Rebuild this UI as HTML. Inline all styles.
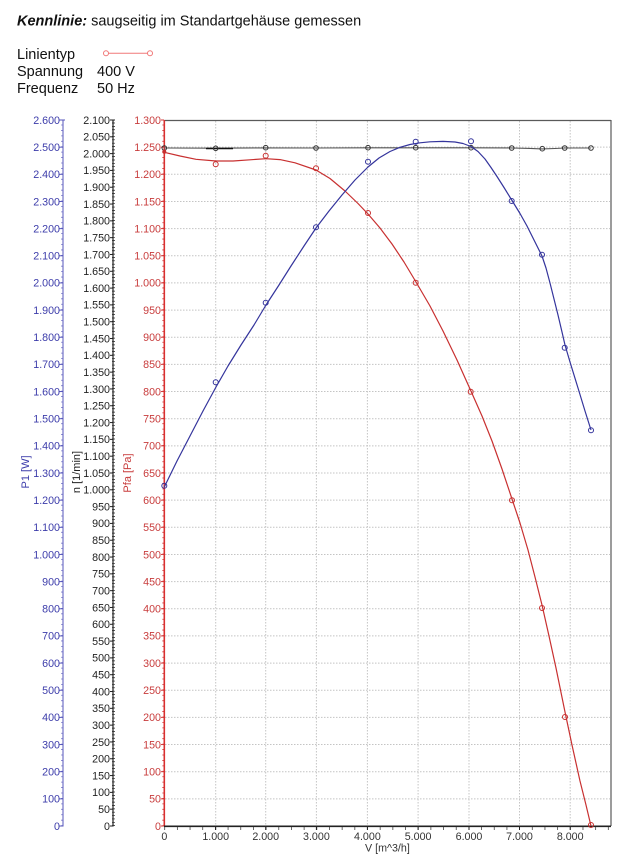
<!DOCTYPE html>
<html><head><meta charset="utf-8"><style>
html,body{margin:0;padding:0;background:#fff;}
svg{display:block;font-family:"Liberation Sans",Arial,sans-serif;}
</style></head><body>
<svg width="631" height="859" viewBox="0 0 631 859" xmlns="http://www.w3.org/2000/svg">
<rect width="631" height="859" fill="#fff"/>
<!-- header -->
<text x="17" y="25.5" font-size="14.5" fill="#111"><tspan font-weight="bold" font-style="italic">Kennlinie:</tspan> saugseitig im Standartgehäuse gemessen</text>
<text x="17" y="59" font-size="14.5" fill="#111">Linientyp</text>
<text x="17" y="76" font-size="14.5" fill="#111">Spannung</text>
<text x="97" y="76" font-size="14.5" fill="#111">400 V</text>
<text x="17" y="93" font-size="14.5" fill="#111">Frequenz</text>
<text x="97" y="93" font-size="14.5" fill="#111">50 Hz</text>
<line x1="108.5" y1="53.3" x2="147.5" y2="53.3" stroke="#f07878" stroke-width="1"/>
<circle cx="106" cy="53.3" r="2.5" fill="#fff" stroke="#f07878" stroke-width="1"/>
<circle cx="150" cy="53.3" r="2.5" fill="#fff" stroke="#f07878" stroke-width="1"/>

<!-- grid -->
<g stroke="#c4c4c4" stroke-width="1" stroke-dasharray="1.5 1.5">
<line x1="215.7" y1="121" x2="215.7" y2="825"/>
<line x1="265.7" y1="121" x2="265.7" y2="825"/>
<line x1="316.4" y1="121" x2="316.4" y2="825"/>
<line x1="367.4" y1="121" x2="367.4" y2="825"/>
<line x1="418.1" y1="121" x2="418.1" y2="825"/>
<line x1="469" y1="121" x2="469" y2="825"/>
<line x1="519.5" y1="121" x2="519.5" y2="825"/>
<line x1="570.2" y1="121" x2="570.2" y2="825"/>
<line x1="165" y1="798.85" x2="610" y2="798.85"/>
<line x1="165" y1="771.69" x2="610" y2="771.69"/>
<line x1="165" y1="744.54" x2="610" y2="744.54"/>
<line x1="165" y1="717.38" x2="610" y2="717.38"/>
<line x1="165" y1="690.23" x2="610" y2="690.23"/>
<line x1="165" y1="663.08" x2="610" y2="663.08"/>
<line x1="165" y1="635.92" x2="610" y2="635.92"/>
<line x1="165" y1="608.77" x2="610" y2="608.77"/>
<line x1="165" y1="581.61" x2="610" y2="581.61"/>
<line x1="165" y1="554.46" x2="610" y2="554.46"/>
<line x1="165" y1="527.31" x2="610" y2="527.31"/>
<line x1="165" y1="500.15" x2="610" y2="500.15"/>
<line x1="165" y1="473" x2="610" y2="473"/>
<line x1="165" y1="445.85" x2="610" y2="445.85"/>
<line x1="165" y1="418.69" x2="610" y2="418.69"/>
<line x1="165" y1="391.54" x2="610" y2="391.54"/>
<line x1="165" y1="364.38" x2="610" y2="364.38"/>
<line x1="165" y1="337.23" x2="610" y2="337.23"/>
<line x1="165" y1="310.08" x2="610" y2="310.08"/>
<line x1="165" y1="282.92" x2="610" y2="282.92"/>
<line x1="165" y1="255.77" x2="610" y2="255.77"/>
<line x1="165" y1="228.62" x2="610" y2="228.62"/>
<line x1="165" y1="201.46" x2="610" y2="201.46"/>
<line x1="165" y1="174.31" x2="610" y2="174.31"/>
<line x1="165" y1="147.15" x2="610" y2="147.15"/>
</g>
<!-- plot border -->
<line x1="164.3" y1="120.5" x2="611" y2="120.5" stroke="#5a5a5a" stroke-width="1.2"/>
<line x1="611" y1="120" x2="611" y2="826" stroke="#5a5a5a" stroke-width="1.2"/>

<!-- blue axis -->
<line x1="63" y1="120" x2="63" y2="826.5" stroke="#5555bb" stroke-width="1"/>
<line x1="61.8" y1="826" x2="61.8" y2="120" stroke="#8080cc" stroke-width="1.6" stroke-dasharray="0.8 4.631"/>
<g stroke="#5555bb" stroke-width="1">
<line x1="59.5" y1="826" x2="63" y2="826"/><line x1="59.5" y1="798.85" x2="63" y2="798.85"/><line x1="59.5" y1="771.69" x2="63" y2="771.69"/><line x1="59.5" y1="744.54" x2="63" y2="744.54"/><line x1="59.5" y1="717.38" x2="63" y2="717.38"/><line x1="59.5" y1="690.23" x2="63" y2="690.23"/><line x1="59.5" y1="663.08" x2="63" y2="663.08"/><line x1="59.5" y1="635.92" x2="63" y2="635.92"/><line x1="59.5" y1="608.77" x2="63" y2="608.77"/><line x1="59.5" y1="581.61" x2="63" y2="581.61"/><line x1="59.5" y1="554.46" x2="63" y2="554.46"/><line x1="59.5" y1="527.31" x2="63" y2="527.31"/><line x1="59.5" y1="500.15" x2="63" y2="500.15"/><line x1="59.5" y1="473" x2="63" y2="473"/><line x1="59.5" y1="445.85" x2="63" y2="445.85"/><line x1="59.5" y1="418.69" x2="63" y2="418.69"/><line x1="59.5" y1="391.54" x2="63" y2="391.54"/><line x1="59.5" y1="364.38" x2="63" y2="364.38"/><line x1="59.5" y1="337.23" x2="63" y2="337.23"/><line x1="59.5" y1="310.08" x2="63" y2="310.08"/><line x1="59.5" y1="282.92" x2="63" y2="282.92"/><line x1="59.5" y1="255.77" x2="63" y2="255.77"/><line x1="59.5" y1="228.62" x2="63" y2="228.62"/><line x1="59.5" y1="201.46" x2="63" y2="201.46"/><line x1="59.5" y1="174.31" x2="63" y2="174.31"/><line x1="59.5" y1="147.15" x2="63" y2="147.15"/><line x1="59.5" y1="120" x2="65" y2="120"/>
</g>
<g font-size="10.7" fill="#3c3caa" text-anchor="end">
<text x="60" y="829.8">0</text><text x="60" y="802.6">100</text><text x="60" y="775.5">200</text><text x="60" y="748.3">300</text><text x="60" y="721.2">400</text><text x="60" y="694">500</text><text x="60" y="666.9">600</text><text x="60" y="639.7">700</text><text x="60" y="612.6">800</text><text x="60" y="585.4">900</text><text x="60" y="558.3">1.000</text><text x="60" y="531.1">1.100</text><text x="60" y="504">1.200</text><text x="60" y="476.8">1.300</text><text x="60" y="449.6">1.400</text><text x="60" y="422.5">1.500</text><text x="60" y="395.3">1.600</text><text x="60" y="368.2">1.700</text><text x="60" y="341">1.800</text><text x="60" y="313.9">1.900</text><text x="60" y="286.7">2.000</text><text x="60" y="259.6">2.100</text><text x="60" y="232.4">2.200</text><text x="60" y="205.3">2.300</text><text x="60" y="178.1">2.400</text><text x="60" y="151">2.500</text><text x="60" y="123.8">2.600</text>
</g>
<text transform="translate(29,472) rotate(-90)" font-size="11" fill="#3c3caa" text-anchor="middle">P1 [W]</text>

<!-- black axis -->
<line x1="113" y1="120" x2="113" y2="826.5" stroke="#222" stroke-width="1.2"/>
<line x1="113.5" y1="826" x2="113.5" y2="120" stroke="#222" stroke-width="3" stroke-dasharray="0.7 2.662"/>
<g stroke="#222" stroke-width="1">
<line x1="110" y1="826" x2="113" y2="826"/><line x1="110" y1="809.19" x2="113" y2="809.19"/><line x1="110" y1="792.38" x2="113" y2="792.38"/><line x1="110" y1="775.57" x2="113" y2="775.57"/><line x1="110" y1="758.76" x2="113" y2="758.76"/><line x1="110" y1="741.95" x2="113" y2="741.95"/><line x1="110" y1="725.14" x2="113" y2="725.14"/><line x1="110" y1="708.33" x2="113" y2="708.33"/><line x1="110" y1="691.52" x2="113" y2="691.52"/><line x1="110" y1="674.71" x2="113" y2="674.71"/><line x1="110" y1="657.9" x2="113" y2="657.9"/><line x1="110" y1="641.1" x2="113" y2="641.1"/><line x1="110" y1="624.29" x2="113" y2="624.29"/><line x1="110" y1="607.48" x2="113" y2="607.48"/><line x1="110" y1="590.67" x2="113" y2="590.67"/><line x1="110" y1="573.86" x2="113" y2="573.86"/><line x1="110" y1="557.05" x2="113" y2="557.05"/><line x1="110" y1="540.24" x2="113" y2="540.24"/><line x1="110" y1="523.43" x2="113" y2="523.43"/><line x1="110" y1="506.62" x2="113" y2="506.62"/><line x1="110" y1="489.81" x2="113" y2="489.81"/><line x1="110" y1="473" x2="113" y2="473"/><line x1="110" y1="456.19" x2="113" y2="456.19"/><line x1="110" y1="439.38" x2="113" y2="439.38"/><line x1="110" y1="422.57" x2="113" y2="422.57"/><line x1="110" y1="405.76" x2="113" y2="405.76"/><line x1="110" y1="388.95" x2="113" y2="388.95"/><line x1="110" y1="372.14" x2="113" y2="372.14"/><line x1="110" y1="355.33" x2="113" y2="355.33"/><line x1="110" y1="338.52" x2="113" y2="338.52"/><line x1="110" y1="321.71" x2="113" y2="321.71"/><line x1="110" y1="304.9" x2="113" y2="304.9"/><line x1="110" y1="288.1" x2="113" y2="288.1"/><line x1="110" y1="271.29" x2="113" y2="271.29"/><line x1="110" y1="254.48" x2="113" y2="254.48"/><line x1="110" y1="237.67" x2="113" y2="237.67"/><line x1="110" y1="220.86" x2="113" y2="220.86"/><line x1="110" y1="204.05" x2="113" y2="204.05"/><line x1="110" y1="187.24" x2="113" y2="187.24"/><line x1="110" y1="170.43" x2="113" y2="170.43"/><line x1="110" y1="153.62" x2="113" y2="153.62"/><line x1="110" y1="136.81" x2="113" y2="136.81"/><line x1="110" y1="120" x2="115" y2="120"/>
</g>
<g font-size="10.7" fill="#222" text-anchor="end">
<text x="110" y="829.8">0</text><text x="110" y="813">50</text><text x="110" y="796.2">100</text><text x="110" y="779.4">150</text><text x="110" y="762.6">200</text><text x="110" y="745.8">250</text><text x="110" y="728.9">300</text><text x="110" y="712.1">350</text><text x="110" y="695.3">400</text><text x="110" y="678.5">450</text><text x="110" y="661.7">500</text><text x="110" y="644.9">550</text><text x="110" y="628.1">600</text><text x="110" y="611.3">650</text><text x="110" y="594.5">700</text><text x="110" y="577.7">750</text><text x="110" y="560.9">800</text><text x="110" y="544">850</text><text x="110" y="527.2">900</text><text x="110" y="510.4">950</text><text x="110" y="493.6">1.000</text><text x="110" y="476.8">1.050</text><text x="110" y="460">1.100</text><text x="110" y="443.2">1.150</text><text x="110" y="426.4">1.200</text><text x="110" y="409.6">1.250</text><text x="110" y="392.8">1.300</text><text x="110" y="375.9">1.350</text><text x="110" y="359.1">1.400</text><text x="110" y="342.3">1.450</text><text x="110" y="325.5">1.500</text><text x="110" y="308.7">1.550</text><text x="110" y="291.9">1.600</text><text x="110" y="275.1">1.650</text><text x="110" y="258.3">1.700</text><text x="110" y="241.5">1.750</text><text x="110" y="224.7">1.800</text><text x="110" y="207.9">1.850</text><text x="110" y="191">1.900</text><text x="110" y="174.2">1.950</text><text x="110" y="157.4">2.000</text><text x="110" y="140.6">2.050</text><text x="110" y="123.8">2.100</text>
</g>
<text transform="translate(80,472) rotate(-90)" font-size="11" fill="#222" text-anchor="middle">n [1/min]</text>

<!-- red axis -->
<line x1="163.3" y1="826" x2="163.3" y2="120" stroke="#d03a3a" stroke-width="2" stroke-dasharray="0.8 4.631"/>
<g stroke="#d03a3a" stroke-width="1">
<line x1="161" y1="826" x2="164" y2="826"/><line x1="161" y1="798.85" x2="164" y2="798.85"/><line x1="161" y1="771.69" x2="164" y2="771.69"/><line x1="161" y1="744.54" x2="164" y2="744.54"/><line x1="161" y1="717.38" x2="164" y2="717.38"/><line x1="161" y1="690.23" x2="164" y2="690.23"/><line x1="161" y1="663.08" x2="164" y2="663.08"/><line x1="161" y1="635.92" x2="164" y2="635.92"/><line x1="161" y1="608.77" x2="164" y2="608.77"/><line x1="161" y1="581.61" x2="164" y2="581.61"/><line x1="161" y1="554.46" x2="164" y2="554.46"/><line x1="161" y1="527.31" x2="164" y2="527.31"/><line x1="161" y1="500.15" x2="164" y2="500.15"/><line x1="161" y1="473" x2="164" y2="473"/><line x1="161" y1="445.85" x2="164" y2="445.85"/><line x1="161" y1="418.69" x2="164" y2="418.69"/><line x1="161" y1="391.54" x2="164" y2="391.54"/><line x1="161" y1="364.38" x2="164" y2="364.38"/><line x1="161" y1="337.23" x2="164" y2="337.23"/><line x1="161" y1="310.08" x2="164" y2="310.08"/><line x1="161" y1="282.92" x2="164" y2="282.92"/><line x1="161" y1="255.77" x2="164" y2="255.77"/><line x1="161" y1="228.62" x2="164" y2="228.62"/><line x1="161" y1="201.46" x2="164" y2="201.46"/><line x1="161" y1="174.31" x2="164" y2="174.31"/><line x1="161" y1="147.15" x2="164" y2="147.15"/><line x1="161" y1="120" x2="164" y2="120"/>
</g>
<line x1="164.3" y1="120" x2="164.3" y2="826.5" stroke="#d83030" stroke-width="1.6"/>
<g font-size="10.7" fill="#c83c3c" text-anchor="end">
<text x="161" y="829.8">0</text><text x="161" y="802.6">50</text><text x="161" y="775.5">100</text><text x="161" y="748.3">150</text><text x="161" y="721.2">200</text><text x="161" y="694">250</text><text x="161" y="666.9">300</text><text x="161" y="639.7">350</text><text x="161" y="612.6">400</text><text x="161" y="585.4">450</text><text x="161" y="558.3">500</text><text x="161" y="531.1">550</text><text x="161" y="504">600</text><text x="161" y="476.8">650</text><text x="161" y="449.6">700</text><text x="161" y="422.5">750</text><text x="161" y="395.3">800</text><text x="161" y="368.2">850</text><text x="161" y="341">900</text><text x="161" y="313.9">950</text><text x="161" y="286.7">1.000</text><text x="161" y="259.6">1.050</text><text x="161" y="232.4">1.100</text><text x="161" y="205.3">1.150</text><text x="161" y="178.1">1.200</text><text x="161" y="151">1.250</text><text x="161" y="123.8">1.300</text>
</g>
<text transform="translate(131,473) rotate(-90)" font-size="11" fill="#c83c3c" text-anchor="middle">Pfa [Pa]</text>

<!-- x axis -->
<line x1="164" y1="826.3" x2="611" y2="826.3" stroke="#222" stroke-width="1.6"/>
<line x1="164.3" y1="828.5" x2="611" y2="828.5" stroke="#444" stroke-width="3" stroke-dasharray="0.8 11.875"/>
<g stroke="#222" stroke-width="1">
<line x1="215.7" y1="826" x2="215.7" y2="830"/><line x1="265.7" y1="826" x2="265.7" y2="830"/><line x1="316.4" y1="826" x2="316.4" y2="830"/><line x1="367.4" y1="826" x2="367.4" y2="830"/><line x1="418.1" y1="826" x2="418.1" y2="830"/><line x1="469" y1="826" x2="469" y2="830"/><line x1="519.5" y1="826" x2="519.5" y2="830"/><line x1="570.2" y1="826" x2="570.2" y2="830"/>
</g>
<g font-size="10.7" fill="#333" text-anchor="middle">
<text x="164.3" y="840">0</text><text x="215.7" y="840">1.000</text><text x="265.7" y="840">2.000</text><text x="316.4" y="840">3.000</text><text x="367.4" y="840">4.000</text><text x="418.1" y="840">5.000</text><text x="469" y="840">6.000</text><text x="519.5" y="840">7.000</text><text x="570.2" y="840">8.000</text>
</g>
<text x="365" y="851.5" font-size="10.7" fill="#333">V [m^3/h]</text>

<!-- black series -->
<polyline fill="none" stroke="#555" stroke-width="1.1" points="164.3,148 216,148.2 266,147.9 316,148 368,147.8 418,147.8 471,147.8 512,148 530,148.4 542,148.9 555,148.5 565,148 591,148"/>
<line x1="206" y1="148.5" x2="233" y2="148.5" stroke="#111" stroke-width="1.4"/>
<g fill="none" stroke="#333" stroke-width="1">
<circle cx="164.3" cy="148" r="2.3"/><circle cx="215.7" cy="148.3" r="2.3"/><circle cx="265.7" cy="147.7" r="2.3"/><circle cx="316" cy="148" r="2.3"/><circle cx="368" cy="147.7" r="2.3"/><circle cx="415.7" cy="147.7" r="2.3"/><circle cx="471" cy="147.7" r="2.3"/><circle cx="511.7" cy="148" r="2.3"/><circle cx="542.3" cy="148.7" r="2.3"/><circle cx="564.7" cy="148" r="2.3"/><circle cx="591" cy="148" r="2.3"/>
</g>

<!-- red series -->
<polyline fill="none" stroke="#c83030" stroke-width="1.2" stroke-linejoin="round" points="164.3,152.3 180,156 196,159.3 216,161 233,161 250,159.8 266,158.7 280,159.6 295,162.8 316,170 330,178.5 345,191 358,203.5 368,214 380,228 392,244 404,262 415.7,281.5 430,306 443,331 457,360 470.7,390.5 482,416 492,441 502,469 512,499 520,523 528,550 535,577 542,605 549,636 556,668 565,712 572,745 580,781 586,805 591,826"/>
<g fill="none" stroke="#c83030" stroke-width="1">
<circle cx="215.7" cy="164.3" r="2.5"/><circle cx="265.7" cy="155.7" r="2.5"/><circle cx="316" cy="168.3" r="2.5"/><circle cx="368" cy="213" r="2.5"/><circle cx="415.7" cy="282.7" r="2.5"/><circle cx="470.7" cy="391.7" r="2.5"/><circle cx="512" cy="500.3" r="2.5"/><circle cx="542" cy="608" r="2.5"/><circle cx="565" cy="717" r="2.5"/><circle cx="591" cy="825" r="2.5"/>
</g>
<circle cx="164.3" cy="151.7" r="2" fill="#c83030"/>

<!-- blue series -->
<polyline fill="none" stroke="#34349c" stroke-width="1.2" stroke-linejoin="round" points="164.3,487 177,461 190,436 203,411 216,387 228,366 241,345 254,325 266,305 279,285 291,266 304,246 316,228 329,211 342,195 355,180 368,167 379,158 390,151.5 400,147.3 410,144.5 420,142.8 430,141.8 443,141.4 455,142 463,143.5 471,146.5 478,151.5 485,159 491,167.5 497,176.5 504,187.5 512,200.5 520,213.5 527,226 533,238 538,248 542,256 546,268 550,283 554,299 558,315 562,332 565,345 570,362 578,388 585,411 591,430"/>
<g fill="none" stroke="#34349c" stroke-width="1">
<circle cx="164.3" cy="485.7" r="2.5"/><circle cx="215.7" cy="382.3" r="2.5"/><circle cx="265.7" cy="302.7" r="2.5"/><circle cx="316" cy="227.3" r="2.5"/><circle cx="368" cy="161.7" r="2.5"/><circle cx="415.7" cy="141.7" r="2.5"/><circle cx="471" cy="141.3" r="2.5"/><circle cx="511.7" cy="201" r="2.5"/><circle cx="542" cy="254.7" r="2.5"/><circle cx="564.7" cy="347.7" r="2.5"/><circle cx="591" cy="430.3" r="2.5"/>
</g>
</svg>
</body></html>
